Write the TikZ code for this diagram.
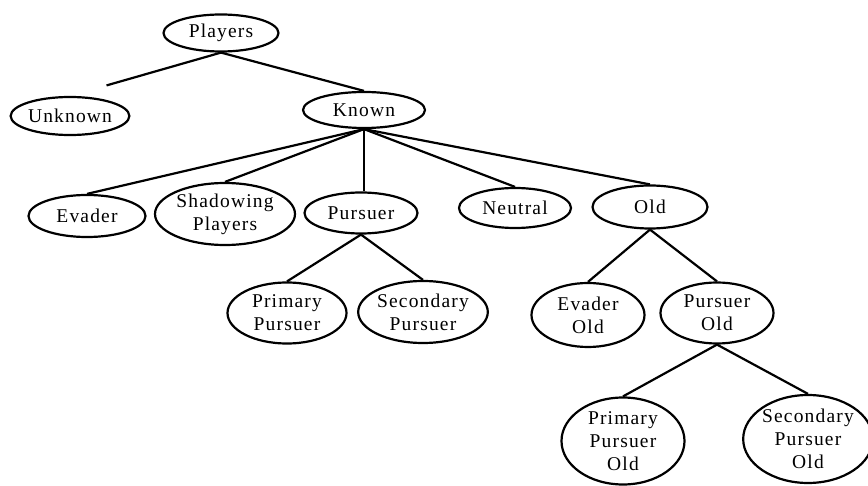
\documentclass[tikz,border=0pt]{standalone}
\usepackage{fontspec}
\setmainfont{Liberation Serif}[LetterSpace=6]
\usetikzlibrary{shapes.geometric}

\tikzset{
  cls/.style={draw, ellipse, line width=2.2pt, inner sep=0pt, align=center,
    font=\fontsize{19.5}{23}\selectfont},
  link/.style={line width=2.2pt}
}

\begin{document}
\begin{tikzpicture}[x=1pt, y=-1pt]
\useasboundingbox (0,0) rectangle (868,486);

% class hierarchy
\node[cls, minimum width=115pt, minimum height=37pt] (players) at (221,33) {Players};
\node[cls, minimum width=116pt, minimum height=38pt] (unknown) at (70,116) {Unknown};
\node[cls, minimum width=122pt, minimum height=36pt] (known) at (364,110) {Known};

\node[cls, minimum width=117pt, minimum height=42pt] (evader) at (87,216) {Evader};
\node[cls, minimum width=140pt, minimum height=62pt] (shadow) at (225,214) {Shadowing\\Players};
\node[cls, minimum width=113pt, minimum height=41pt] (pursuer) at (361,213) {Pursuer};
\node[cls, minimum width=112pt, minimum height=40pt] (neutral) at (515,208) {Neutral};
\node[cls, minimum width=115pt, minimum height=43pt] (old) at (650,207) {Old};

\node[cls, minimum width=119pt, minimum height=61pt] (ppursuer) at (287,313) {Primary\\Pursuer};
\node[cls, minimum width=122pt, minimum height=62pt] (spursuer) at (423,312) {Secondary\\Pursuer};
\node[cls, minimum width=113pt, minimum height=64pt] (evold) at (588,315) {Evader\\Old};
\node[cls, minimum width=113pt, minimum height=61pt] (puold) at (717,313) {Pursuer\\Old};

\node[cls, minimum width=123pt, minimum height=87pt] (ppold) at (623,441) {Primary\\Pursuer\\Old};
\node[cls, minimum width=117pt, minimum height=88pt] (spold) at (808,439) {Secondary\\Pursuer\\Old};

% connectors
\draw[link, shorten >=38pt] (players.south) -- (unknown.north);
\draw[link] (players.south) -- (known.north);

\draw[link] (known.south) -- (evader.north);
\draw[link] (known.south) -- (shadow.north);
\draw[link] (known.south) -- (known.south |- pursuer.north);
\draw[link] (known.south) -- (neutral.north);
\draw[link] (known.south) -- (old.north);

\draw[link] (pursuer.south) -- (ppursuer.north);
\draw[link] (pursuer.south) -- (spursuer.north);

\draw[link] (old.south) -- (evold.north);
\draw[link] (old.south) -- (puold.north);

\draw[link] (puold.south) -- (ppold.north);
\draw[link] (puold.south) -- (spold.north);
\end{tikzpicture}
\end{document}
